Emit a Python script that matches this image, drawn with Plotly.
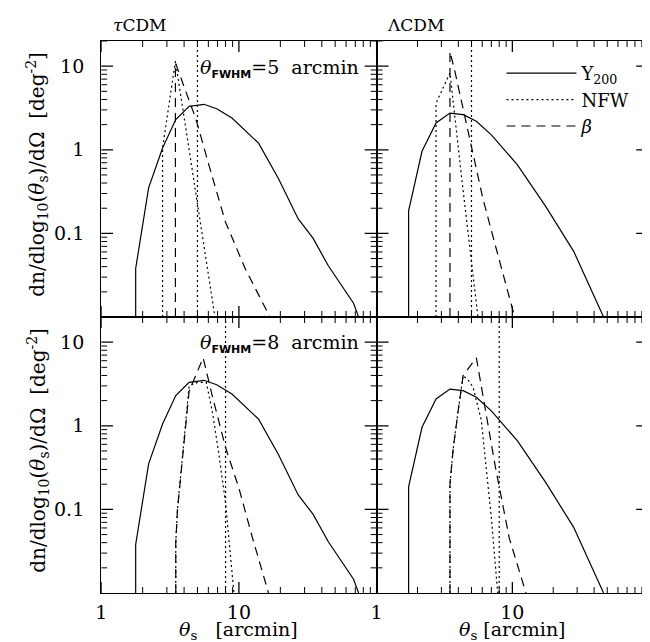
import plotly.graph_objects as go

# ---------------- data ----------------
# tau-CDM, Y200 (same curve in both tau-CDM panels)
tau_y200_x = [1.78, 1.78, 2.21, 2.79, 3.48, 4.35, 5.57, 6.9, 8.9, 11.0, 13.9, 19.4, 26.9, 34.6, 44.6, 68, 74]
tau_y200_y = [0.01, 0.038, 0.35, 1.05, 2.3, 3.3, 3.5, 3.1, 2.4, 1.72, 1.2, 0.45, 0.15, 0.087, 0.041, 0.0146, 0.01]

# Lambda-CDM, Y200 (same curve in both Lambda-CDM panels)
lam_y200_x = [1.72, 1.72, 2.16, 2.74, 3.47, 4.34, 5.43, 7.0, 10.9, 17.6, 28.3, 47]
lam_y200_y = [0.01, 0.186, 0.96, 2.09, 2.75, 2.63, 2.19, 1.51, 0.66, 0.21, 0.061, 0.01]

# theta_FWHM = 5 arcmin
tau5_nfw_x = [2.79, 2.79, 3.46, 4.35, 4.85, 5.72, 6.7]
tau5_nfw_y = [0.01, 1.05, 11.5, 1.0, 0.33, 0.056, 0.01]
tau5_beta_x = [3.46, 3.46, 4.11, 4.85, 6.05, 7.97, 11.1, 16.8]
tau5_beta_y = [0.01, 11.0, 5.0, 2.4, 0.66, 0.138, 0.038, 0.01]

lam5_nfw_x = [2.74, 2.74, 3.47, 4.22, 5.58]
lam5_nfw_y = [0.01, 3.6, 8.3, 0.48, 0.01]
lam5_beta_x = [3.47, 3.47, 3.77, 4.86, 6.07, 7.6, 9.8, 10.4]
lam5_beta_y = [0.01, 15.0, 8.7, 1.38, 0.26, 0.066, 0.015, 0.01]

# theta_FWHM = 8 arcmin
tau8_nfw_x = [3.48, 3.48, 3.58, 3.78, 4.0, 4.35, 5.0, 5.8, 6.4, 7.1, 8.0, 9.2]
tau8_nfw_y = [0.01, 0.04, 0.1, 0.26, 0.65, 3.0, 3.3, 3.3, 1.5, 0.5, 0.12, 0.01]
tau8_beta_x = [3.48, 3.48, 3.58, 3.78, 4.0, 4.35, 5.5, 6.4, 8.0, 10.0, 12.4, 16.4]
tau8_beta_y = [0.01, 0.04, 0.1, 0.26, 0.65, 2.6, 6.5, 2.3, 0.55, 0.18, 0.049, 0.01]

lam8_nfw_x = [3.47, 3.47, 3.58, 3.67, 3.98, 4.34, 4.8, 5.13, 5.9, 6.4, 7.0, 7.8]
lam8_nfw_y = [0.01, 0.2, 0.35, 0.54, 1.48, 4.0, 3.4, 2.9, 1.17, 0.3, 0.08, 0.01]
lam8_beta_x = [3.47, 3.47, 3.58, 3.67, 3.98, 4.34, 5.43, 6.25, 7.5, 9.5, 12.6]
lam8_beta_y = [0.01, 0.2, 0.35, 0.54, 1.48, 4.0, 6.5, 1.8, 0.32, 0.045, 0.01]

# beam size markers (vertical dotted lines)
fwhm_top = 5
fwhm_bottom = 8

# axis extents and ticks
x_lim = [1, 100]
y_lim = [0.01, 20]
x_major = [1, 10, 100]
x_major_text = ["1", "10", ""]
y_major = [0.1, 1, 10]
y_major_text = ["0.1", "1", "10"]
x_minor = [2, 3, 4, 5, 6, 7, 8, 9, 20, 30, 40, 50, 60, 70, 80, 90]
y_minor = [0.02, 0.03, 0.04, 0.05, 0.06, 0.07, 0.08, 0.09,
           0.2, 0.3, 0.4, 0.5, 0.6, 0.7, 0.8, 0.9,
           2, 3, 4, 5, 6, 7, 8, 9, 20]

# ---------------- figure ----------------
W, H = 650, 642
FONT = "DejaVu Serif"
fig = go.Figure()

solid = dict(color="black", width=1.2)
dotted = dict(color="black", width=1.2, dash="2px,3px")
dashed = dict(color="black", width=1.2, dash="9px,6px")

xdom_l = [88 / W, 366 / W]
xdom_r = [366 / W, 640 / W]
ydom_t = [1 - 309 / H, 1 - 33 / H]
ydom_b = [1 - 585 / H, 1 - 309 / H]
XDEC = 2.0          # decades shown on x
YDEC = 3.30103      # decades shown on y

panels = [
    ("x", "y", tau_y200_x, tau_y200_y, tau5_nfw_x, tau5_nfw_y, tau5_beta_x, tau5_beta_y, fwhm_top, False, xdom_l, ydom_t),
    ("x2", "y2", lam_y200_x, lam_y200_y, lam5_nfw_x, lam5_nfw_y, lam5_beta_x, lam5_beta_y, fwhm_top, True, xdom_r, ydom_t),
    ("x3", "y3", tau_y200_x, tau_y200_y, tau8_nfw_x, tau8_nfw_y, tau8_beta_x, tau8_beta_y, fwhm_bottom, False, xdom_l, ydom_b),
    ("x4", "y4", lam_y200_x, lam_y200_y, lam8_nfw_x, lam8_nfw_y, lam8_beta_x, lam8_beta_y, fwhm_bottom, False, xdom_r, ydom_b),
]

for xa, ya, sx, sy, nx, ny, bx, by, fw, leg, xdom, ydom in panels:
    fig.add_trace(go.Scatter(x=sx, y=sy, mode="lines", line=solid, name="Y<sub>200</sub>",
                             showlegend=leg, xaxis=xa, yaxis=ya))
    fig.add_trace(go.Scatter(x=nx, y=ny, mode="lines", line=dotted, name="NFW",
                             showlegend=leg, xaxis=xa, yaxis=ya))
    fig.add_trace(go.Scatter(x=bx, y=by, mode="lines", line=dashed, name="<i>β</i>",
                             showlegend=leg, xaxis=xa, yaxis=ya))
    fig.add_trace(go.Scatter(x=[fw, fw], y=y_lim, mode="lines", line=dotted,
                             showlegend=False, xaxis=xa, yaxis=ya))

    # inside tick marks on all four sides, drawn as short segments in axis units
    pw = (xdom[1] - xdom[0]) * W
    ph = (ydom[1] - ydom[0]) * H
    for xv, yv, Lx, Ly, wdt in [(x_major, y_major, 11, 12, 1.3), (x_minor, y_minor, 6, 6, 1.0)]:
        fy = 10 ** (Lx * YDEC / ph)
        fx = 10 ** (Ly * XDEC / pw)
        tx, ty = [], []
        for t in xv:
            tx += [t, t, None, t, t, None]
            ty += [y_lim[0], y_lim[0] * fy, None, y_lim[1], y_lim[1] / fy, None]
        for t in yv:
            tx += [x_lim[0], x_lim[0] * fx, None, x_lim[1], x_lim[1] / fx, None]
            ty += [t, t, None, t, t, None]
        fig.add_trace(go.Scatter(x=tx, y=ty, mode="lines", line=dict(color="black", width=wdt),
                                 showlegend=False, hoverinfo="skip", connectgaps=False,
                                 xaxis=xa, yaxis=ya))

LW = 1.3


def xaxis(domain, anchor, labels):
    return dict(type="log", range=[0, XDEC], domain=domain, anchor=anchor,
                showgrid=False, zeroline=False, showline=True, linecolor="black", linewidth=LW,
                mirror=True, ticks="", tickmode="array", tickvals=x_major, ticktext=x_major_text,
                showticklabels=labels, ticklabelstandoff=2,
                tickfont=dict(family=FONT, size=19, color="black"))


def yaxis(domain, anchor, labels):
    return dict(type="log", range=[-2, -2 + YDEC], domain=domain, anchor=anchor,
                showgrid=False, zeroline=False, showline=True, linecolor="black", linewidth=LW,
                mirror=True, ticks="", tickmode="array", tickvals=y_major, ticktext=y_major_text,
                showticklabels=labels, ticklabelstandoff=12,
                tickfont=dict(family=FONT, size=19, color="black"))


fig.update_layout(
    width=W, height=H,
    margin=dict(l=0, r=0, t=0, b=0),
    paper_bgcolor="white", plot_bgcolor="rgba(0,0,0,0)",
    font=dict(family=FONT, color="black", size=19),
    xaxis=xaxis(xdom_l, "y", False),
    yaxis=yaxis(ydom_t, "x", True),
    xaxis2=xaxis(xdom_r, "y2", False),
    yaxis2=yaxis(ydom_t, "x2", False),
    xaxis3=xaxis(xdom_l, "y3", True),
    yaxis3=yaxis(ydom_b, "x3", True),
    xaxis4=xaxis(xdom_r, "y4", True),
    yaxis4=yaxis(ydom_b, "x4", False),
    legend=dict(x=492 / W, y=1 - 47 / H, xanchor="left", yanchor="top",
                bgcolor="rgba(0,0,0,0)", borderwidth=0, itemwidth=70,
                font=dict(family=FONT, size=18, color="black"), tracegroupgap=0),
    showlegend=True,
)

ann = []
ann.append(dict(text="<i>τ</i>CDM", x=98 / W, y=1 - 17 / H, xref="paper", yref="paper",
                xanchor="left", yanchor="middle", showarrow=False, font=dict(size=17)))
ann.append(dict(text="ΛCDM", x=374 / W, y=1 - 17 / H, xref="paper", yref="paper",
                xanchor="left", yanchor="middle", showarrow=False, font=dict(size=17)))
fwhm = "<i>θ</i><sub><b><span style='font-family:DejaVu Sans;font-size:11px'>FWHM</span></b></sub>"
ann.append(dict(text=fwhm + "=5  arcmin",
                x=350 / W, y=1 - 60 / H, xref="paper", yref="paper",
                xanchor="right", yanchor="middle", showarrow=False, font=dict(size=19)))
ann.append(dict(text=fwhm + "=8  arcmin",
                x=350 / W, y=1 - 336 / H, xref="paper", yref="paper",
                xanchor="right", yanchor="middle", showarrow=False, font=dict(size=19)))
ytitle = "dn/dlog<sub>10</sub>(<i>θ</i><sub>s</sub>)/dΩ  [deg<sup>-2</sup>]"
for yc in [166, 442]:
    ann.append(dict(text=ytitle, x=24 / W, y=1 - yc / H, xref="paper", yref="paper",
                    xanchor="center", yanchor="middle", textangle=-90, showarrow=False,
                    font=dict(size=20)))
ann.append(dict(text="<i>θ</i><sub>s</sub>   [arcmin]", x=227 / W, y=1 - 622 / H, xref="paper", yref="paper",
                xanchor="center", yanchor="middle", showarrow=False, font=dict(size=19)))
ann.append(dict(text="<i>θ</i><sub>s</sub> [arcmin]", x=503 / W, y=1 - 622 / H, xref="paper", yref="paper",
                xanchor="center", yanchor="middle", showarrow=False, font=dict(size=19)))
fig.update_layout(annotations=ann)

fig.write_html("out.html")
